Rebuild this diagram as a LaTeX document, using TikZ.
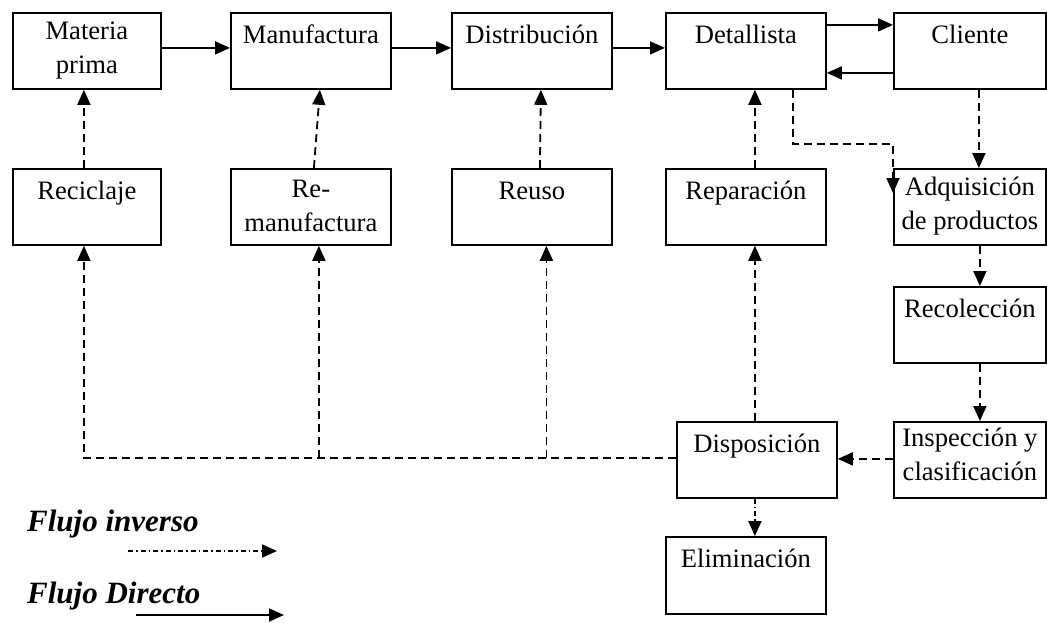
\documentclass[tikz,border=0pt]{standalone}
\usepackage{fontspec}
\setmainfont{Liberation Serif}
\usetikzlibrary{arrows.meta,calc}
\tikzset{
  box/.style={draw, line width=1.8pt, rectangle, inner sep=0pt, anchor=north west,
    minimum width=160pt, text height=31pt, text depth=45pt},
  flow/.style={line width=1.8pt, -{Triangle[length=15pt,width=13pt]}},
  back/.style={flow, dash pattern=on 8pt off 5pt},
  dispose/.style={flow, dash pattern=on 5pt off 3pt on 1.5pt off 3pt},
  legend/.style={anchor=base west, inner sep=0pt, font=\bfseries\itshape\fontsize{31}{36}\selectfont},
}
\newcommand{\twolines}[2]{\begin{tabular}[t]{@{}c@{}}#1\\#2\end{tabular}}
\begin{document}
\begin{tikzpicture}[x=1pt,y=-1pt,font=\fontsize{26.6}{34}\selectfont]
\useasboundingbox (0,0) rectangle (1047,622);

% forward chain
\node[box, minimum width=148pt, text height=27pt, text depth=49pt] (mp) at (12,12) {\twolines{Materia}{prima}};
\node[box] (man) at (230,12) {Manufactura};
\node[box] (dis) at (451,12) {Distribución};
\node[box] (det) at (665,12) {Detallista};
\node[box, minimum width=152pt] (cli) at (893,12) {Cliente};

% recovery options
\node[box, minimum width=148pt] (rec) at (12,168) {Reciclaje};
\node[box, text height=29pt, text depth=47pt] (rem) at (230,168) {\twolines{Re-}{manufactura}};
\node[box] (reu) at (451,168) {Reuso};
\node[box] (rep) at (665,168) {Reparación};

% reverse chain
\node[box, minimum width=152pt, text height=27pt, text depth=49pt] (adq) at (893,168) {\twolines{Adquisición}{de productos}};
\node[box, minimum width=152pt] (rcl) at (893,286) {Recolección};
\node[box, minimum width=152pt, text height=25pt, text depth=51pt] (ins) at (893,421) {\twolines{Inspección y}{clasificación}};
\node[box] (dsp) at (676,421) {Disposición};
\node[box, text depth=46pt] (eli) at (665,536) {Eliminación};

% direct flow
\draw[flow] ([yshift=3pt]mp.east) -- ([yshift=3pt]man.west);
\draw[flow] ([yshift=3pt]man.east) -- ([yshift=3pt]dis.west);
\draw[flow] ([yshift=3pt]dis.east) -- ([yshift=3pt]det.west);
\draw[flow] ([yshift=26pt]det.east) -- ([yshift=26pt]cli.west);
\draw[flow] ([yshift=-22pt]cli.west) -- ([yshift=-22pt]det.east);

% reverse flow
\draw[back] ([xshift=-3pt]rec.north) -- ([xshift=-3pt]mp.south);
\draw[back] ([xshift=3pt]rem.north) -- ([xshift=9pt]man.south);
\draw[back] ([xshift=8pt]reu.north) -- ([xshift=9pt]dis.south);
\draw[back] ([xshift=9pt]rep.north) -- ([xshift=9pt]det.south);
\draw[back] ([xshift=47pt]det.south) -- ++(0,54) -| ([yshift=-25pt]adq.north west);
\draw[back] ([xshift=9pt]cli.south) -- ([xshift=9pt]adq.north);
\draw[back] ([xshift=10pt]adq.south) -- ([xshift=10pt]rcl.north);
\draw[back] ([xshift=10pt]rcl.south) -- ([xshift=10pt]ins.north);
\draw[back] ([yshift=1pt]ins.west) -- ([yshift=1pt]dsp.east);
\draw[back] ([xshift=-2pt]dsp.north) -- ([xshift=9pt]rep.south);
\draw[dispose] ([xshift=-2pt]dsp.south) -- ([xshift=9pt]eli.north);

% return bus from Disposición
\coordinate (bus) at ([yshift=2pt]dsp.west);
\coordinate (remin) at ([xshift=8pt]rem.south);
\coordinate (reuin) at ([xshift=14.5pt]reu.south);
\draw[back] (bus) -| ([xshift=-3pt]rec.south);
\draw[back] (bus -| remin) -- (remin);
\draw[back] (bus -| reuin) -- (reuin);

% legend
\node[legend] (inv) at (27,531) {Flujo inverso};
\coordinate (invA) at (128,551);
\coordinate (invB) at (277,551);
\draw[dispose] (invA) -- (invB);
\node[legend] (dir) at (27,603) {Flujo Directo};
\coordinate (dirA) at (136,615);
\coordinate (dirB) at (284,615);
\draw[flow] (dirA) -- (dirB);
\end{tikzpicture}
\end{document}
